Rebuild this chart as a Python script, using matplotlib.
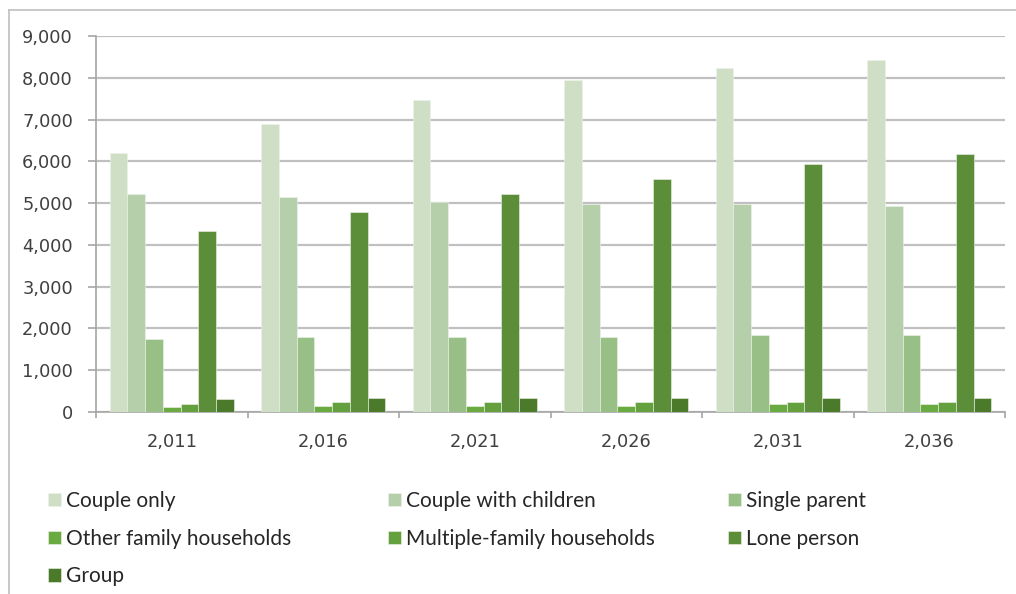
import numpy as np
import matplotlib.pyplot as plt
from matplotlib.lines import Line2D
from matplotlib.ticker import FuncFormatter, FixedLocator

plt.rcParams['font.family'] = ['DejaVu Sans']

years = ['2,011', '2,016', '2,021', '2,026', '2,031', '2,036']
couple_only = [6200, 6900, 7480, 7940, 8230, 8430]
couple_children = [5230, 5140, 5020, 4990, 4990, 4930]
single_parent = [1740, 1790, 1790, 1790, 1840, 1840]
other_family = [130, 140, 140, 140, 185, 185]
multiple_family = [190, 240, 240, 240, 240, 240]
lone_person = [4340, 4780, 5220, 5580, 5930, 6180]
group = [300, 335, 335, 335, 335, 335]

series = [
    ('Couple only', couple_only, '#cfdfc5'),
    ('Couple with children', couple_children, '#b5cfaa'),
    ('Single parent', single_parent, '#98c086'),
    ('Other family households', other_family, '#6aab41'),
    ('Multiple-family households', multiple_family, '#64a03e'),
    ('Lone person', lone_person, '#5c8e3a'),
    ('Group', group, '#4b7a2b'),
]

W, H = 1016, 594
fig = plt.figure(figsize=(W / 100, H / 100), dpi=100)
ax = fig.add_axes([96 / W, 1 - 412 / H, (1005 - 96) / W, (412 - 36) / H])

x = np.arange(len(years))
w = 0.117
bars = []
for i, (name, vals, col) in enumerate(series):
    b = ax.bar(x + (i - 3) * w, vals, w, color=col, label=name,
               edgecolor='#eef3ea', linewidth=0.4, zorder=3)
    bars.append(b)

ax.set_xlim(-0.5, len(years) - 0.5)
ax.set_ylim(0, 9000)
ax.set_yticks(np.arange(0, 9001, 1000))
ax.yaxis.set_major_formatter(FuncFormatter(lambda v, p: f'{int(v):,}'))
ax.grid(axis='y', color='#c0c0c0', linewidth=1.6, zorder=0)

ax.set_xticks(x)
ax.set_xticklabels(years)
ax.xaxis.set_minor_locator(FixedLocator(np.arange(-0.5, len(years), 1)))
ax.tick_params(axis='x', which='major', length=0, pad=15, labelsize=12.8, labelcolor='#404040')
ax.tick_params(axis='x', which='minor', length=4.5, width=1.2, color='#a6a6a6')
ax.tick_params(axis='y', length=5.8, width=1.2, color='#a6a6a6', pad=10.8,
               labelsize=12.8, labelcolor='#404040')

for s in ['top', 'right']:
    ax.spines[s].set_visible(False)
for s in ['left', 'bottom']:
    ax.spines[s].set_color('#a6a6a6')
    ax.spines[s].set_linewidth(1.2)

# legend laid out row by row in three columns
cols = [[0, 3, 6], [1, 4], [2, 5]]
col_x = [48, 388, 728]
for idx, cx in zip(cols, col_x):
    leg = fig.legend([bars[i] for i in idx], [series[i][0] for i in idx],
                     loc='upper left', bbox_to_anchor=(cx / W, 1 - 491 / H),
                     frameon=False, prop={'family': ['Lato', 'DejaVu Sans'], 'size': 15},
                     handlelength=0.625, handleheight=0.625, handletextpad=0.25,
                     labelspacing=0.85, borderpad=0, borderaxespad=0)
    for t in leg.get_texts():
        t.set_color('#262626')

# chart area border (cropped on the right and bottom)
fig.add_artist(Line2D([9 / W, 9 / W], [0, 1 - 10 / H], color='#bfbfbf', lw=1.2))
fig.add_artist(Line2D([9 / W, 1], [1 - 10 / H, 1 - 10 / H], color='#bfbfbf', lw=1.2))

fig.savefig('out.png', dpi=100)
